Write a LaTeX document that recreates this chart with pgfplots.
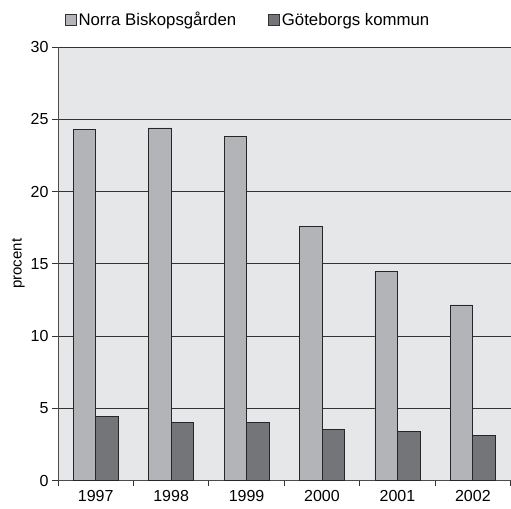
\documentclass[border=0pt]{standalone}
\usepackage{fontspec}
\setmainfont{Liberation Sans}
\usepackage{pgfplots}
\pgfplotsset{compat=1.18}
\definecolor{bg}{HTML}{E6E7E9}
\definecolor{lightbar}{HTML}{B3B4B7}
\definecolor{darkbar}{HTML}{747578}
\begin{document}
\begin{tikzpicture}
\begin{axis}[
  scale only axis, width=453pt, height=434pt,
  ybar=0pt, bar width=22.5pt,
  xmin=-0.5, xmax=5.5, ymin=0, ymax=30,
  xtick={0,1,2,3,4,5}, xticklabels={1997,1998,1999,2000,2001,2002},
  major x tick style={draw=none},
  minor xtick={-0.5,0.5,1.5,2.5,3.5,4.5,5.5},
  minor x tick style={black!80, line width=0.8pt},
  minor tick length=5pt,
  ytick={0,5,10,15,20,25,30},
  ymajorgrids, grid style={black!80, line width=0.8pt},
  tick align=outside, major tick length=6pt,
  major y tick style={black!80, line width=0.8pt},
  axis x line*=bottom, axis y line*=left,
  axis line style={black!70, line width=0.8pt},
  axis background/.style={fill=bg},
  /pgf/number format/assume math mode=true,
  tick label style={font=\fontsize{16}{19}\selectfont},
  ylabel={procent},
  every axis y label/.style={at={(ticklabel cs:0.5)}, rotate=90, anchor=south, yshift=-1pt, font=\fontsize{15}{18}\selectfont},
  legend columns=2,
  legend style={draw=none, fill=none, font=\fontsize{16.8}{20}\selectfont,
    at={(0.42,1)}, anchor=center, yshift=27pt,
    /tikz/every even column/.append style={column sep=30pt}},
  legend image code/.code={\draw[#1, draw=black!80, line width=0.7pt] (0pt,-5pt) rectangle (11pt,6pt);},
]
\addplot[fill=lightbar, draw=black!85, line width=0.8pt] coordinates {
  (0,24.3) (1,24.4) (2,23.8) (3,17.6) (4,14.5) (5,12.15)};
\addplot[fill=darkbar, draw=black!85, line width=0.8pt] coordinates {
  (0,4.45) (1,4.05) (2,4.05) (3,3.52) (4,3.41) (5,3.13)};
\legend{Norra Biskopsgården, Göteborgs kommun}
\end{axis}
\path (current axis.south west) ++(-58pt,-28pt) coordinate (bbA);
\path (current axis.north east) ++(0pt,47pt) coordinate (bbB);
\path (bbA) (bbB);
\end{tikzpicture}
\end{document}
